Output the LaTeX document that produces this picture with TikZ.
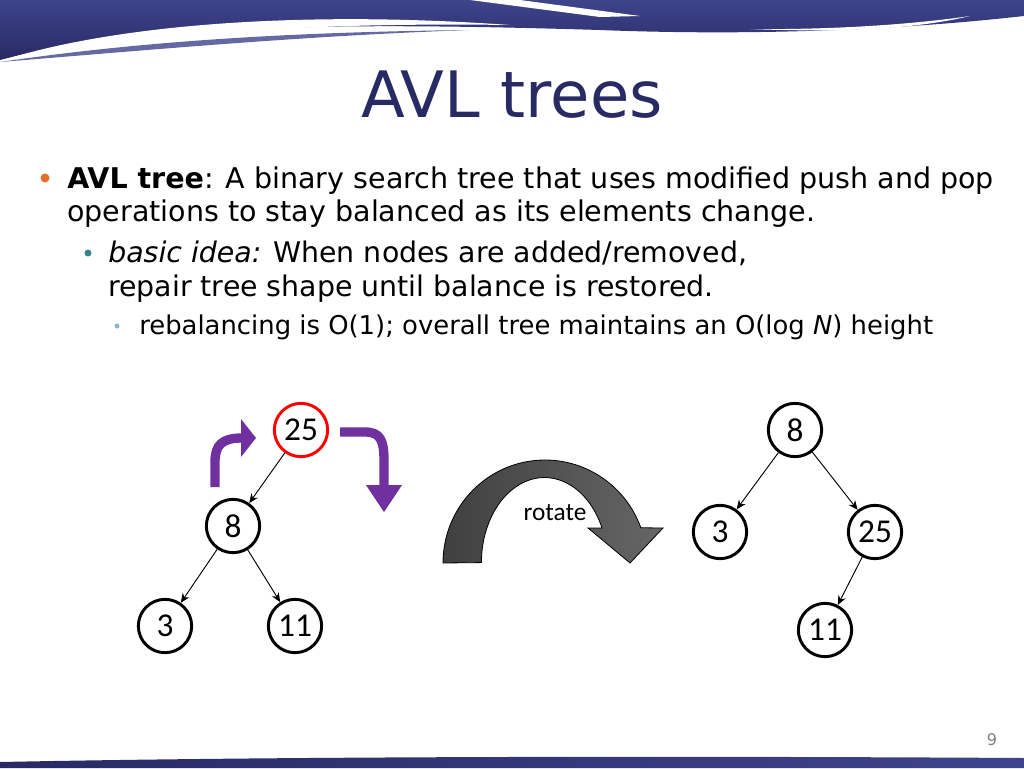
\documentclass[tikz,border=0pt]{standalone}
\usepackage{fontspec}
\setmainfont{DejaVu Sans}
\newfontfamily\calfont{Carlito}
\usetikzlibrary{arrows.meta}
\definecolor{navy}{RGB}{40,42,100}
\definecolor{bandblue}{RGB}{62,68,140}
\definecolor{violet}{RGB}{112,48,160}
\definecolor{bulorange}{RGB}{230,110,40}
\definecolor{bulteal}{RGB}{60,130,140}
\definecolor{bulblue}{RGB}{140,180,210}
\begin{document}
\begin{tikzpicture}[x=0.75pt,y=-0.75pt,
    circ/.style = {circle, draw, line width=2.2pt, minimum size=40pt, inner sep=0pt, font=\calfont\fontsize{25}{27}\selectfont},
    edge/.style = {-{Stealth[length=7pt,width=6pt]}, line width=0.7pt},
    fat/.style = {violet, line width=7pt},
    txt/.style = {anchor=base west, inner sep=0pt}]
    \useasboundingbox (0,0) rectangle (1024,768);
    % banner
    \shade[top color=bandblue, bottom color=navy] (0,0) -- (1024,0) -- (1024,16)
      .. controls (900,30) and (750,36) .. (600,30) .. controls (400,24) and (150,20) .. (0,60) -- cycle;
    \fill[white] (470,0) -- (520,0) -- (640,16) -- (600,17) -- cycle;
    \fill[white] (10,58) .. controls (120,25) and (300,10) .. (510,25) .. controls (300,22) and (150,35) .. (10,58);
    \fill[bandblue!80] (0,62) .. controls (150,40) and (300,32) .. (470,30) .. controls (300,36) and (150,50) .. (0,62);
    \fill[white] (750,29) .. controls (850,30) and (930,22) .. (970,16) .. controls (920,28) and (850,33) .. (750,29);
    \shade[left color=navy, right color=bandblue] (0,768) -- (0,762) .. controls (300,756) and (700,756) .. (1024,758) -- (1024,768) -- cycle;
    % title and text
    \node (title) at (512,95) {\color{navy}\fontsize{48}{52}\selectfont AVL trees};
    \fill[bulorange] (45,178) circle (4.5);
    \node (l1) [txt] at (67,188) {\fontsize{21.4}{24}\selectfont\textbf{AVL tree}: A binary search tree that uses modified push and pop};
    \node (l2) [txt] at (67,221) {\fontsize{21.4}{24}\selectfont operations to stay balanced as its elements change.};
    \fill[bulteal] (88,253) circle (3.5);
    \node (l3) [txt] at (108,262) {\fontsize{21.3}{24}\selectfont\textit{basic idea:} When nodes are added/removed,};
    \node (l4) [txt] at (108,296) {\fontsize{21.3}{24}\selectfont repair tree shape until balance is restored.};
    \fill[bulblue] (117,326) circle (2.5);
    \node (l5) [txt] at (139,334) {\fontsize{19.4}{22}\selectfont rebalancing is O(1); overall tree maintains an O(log \textit{N}) height};
    \node (pg) at (992,740) {\color{gray}\fontsize{12}{14}\selectfont 9};
    % left tree
    \node (a25) [circ, red] at (301,430) {\color{black}25};
    \node (a8) [circ] at (233,526) {8};
    \node (a3) [circ] at (165,626) {3};
    \node (a11) [circ] at (295,626) {11};
    \foreach \p/\c in {a25/a8, a8/a3, a8/a11}
      \draw [edge] (\p) -- (\c);
    % right tree
    \node (b8) [circ] at (795,430) {8};
    \node (b3) [circ] at (720,532) {3};
    \node (b25) [circ] at (875,532) {25};
    \node (b11) [circ] at (825,630) {11};
    \foreach \p/\c in {b8/b3, b8/b25, b25/b11}
      \draw [edge] (\p) -- (\c);
    % purple arrows
    \draw [fat] (215,487) -- (215,462) .. controls (215,445) and (222,438) .. (242,438);
    \fill[violet] (241,419) -- (256,438) -- (241,457) -- cycle;
    \draw [fat] (340,432) -- (365,432) .. controls (380,432) and (384,440) .. (384,460) -- (384,487);
    \fill[violet] (366,485) -- (402,485) -- (384,512) -- cycle;
    % rotate arrow
    \shade[draw=black, line width=0.6pt, left color=black!75, right color=black!60]
      (443,563) arc[start angle=180, end angle=340, x radius=102, y radius=103]
      -- (663,528) -- (630,563) -- (588,528) -- (602,528)
      arc[start angle=336, end angle=180, x radius=63, y radius=85] -- cycle;
    \node (rot) at (555,513) {\calfont\fontsize{19}{21}\selectfont rotate};
\end{tikzpicture}
\end{document}
